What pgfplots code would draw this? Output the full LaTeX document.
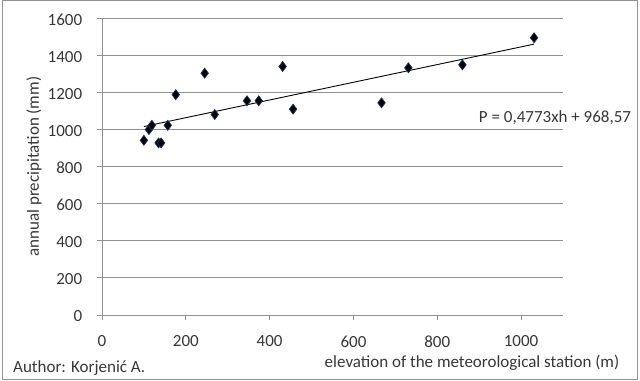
\documentclass[border=0pt]{standalone}
\usepackage{pgfplots}
\pgfplotsset{compat=1.18}
\usepackage{fontspec}
\setmainfont{Carlito}
\definecolor{gridgray}{RGB}{145,145,145}
\definecolor{txt}{RGB}{55,55,55}
\definecolor{navy}{RGB}{30,50,90}
\newcommand{\cf}{\fontsize{17bp}{20bp}\selectfont}
\begin{document}
\begin{tikzpicture}[x=1bp,y=1bp]
\useasboundingbox (0,0) rectangle (640,380);
\draw[gridgray, line width=1bp] (2,0.5) rectangle (637,379.5);
\begin{axis}[
  at={(102bp,65bp)}, anchor=south west,
  scale only axis, width=461bp, height=296.7bp,
  xmin=0, xmax=1100, ymin=0, ymax=1600,
  xtick={0,200,...,1000}, ytick={0,200,...,1600},
  axis lines=left,
  axis line style={draw=gridgray, line width=0.9bp, -},
  ymajorgrids, grid style={gridgray, line width=0.9bp},
  tick align=outside, major tick length=5bp,
  tick style={gridgray, line width=0.9bp},
  clip=false,
  /pgf/number format/assume math mode=true,
  /pgf/number format/1000 sep={},
  tick label style={font=\cf, text=txt},
  xticklabel style={yshift=-12.3bp},
  yticklabel style={xshift=-11.3bp, yshift=-1.5bp},
  ylabel={annual precipitation (mm)},
  every axis y label/.style={at={(axis description cs:-0.1475,0.5)}, rotate=90, anchor=center,
    font=\cf, text=txt},
]
\addplot[black, line width=0.9bp] coordinates {(100,1016.3) (1031,1460.7)};
\addplot[only marks, mark=diamond*, mark size=5bp,
  mark options={fill=black, draw=navy, line width=0.7bp}] coordinates {
(100,942) (112,1000) (119,1023) (135,928) (141,928) (157,1023)
(176,1188) (245,1304) (269,1081) (346,1155) (374,1155) (431,1340)
(456,1110) (667,1144) (731,1333) (860,1349) (1031,1495)
};
\end{axis}
\node[anchor=base, font=\cf, text=txt, inner sep=0pt] at (555,258) {P = 0,4773xh + 968,57};
\node[anchor=base west, font=\cf, text=txt, inner sep=0pt] at (13,8) {Author: Korjenić A.};
\node[anchor=base, font=\cf, text=txt, inner sep=0pt] at (472,13) {elevation of the meteorological station (m)};
\end{tikzpicture}
\end{document}
